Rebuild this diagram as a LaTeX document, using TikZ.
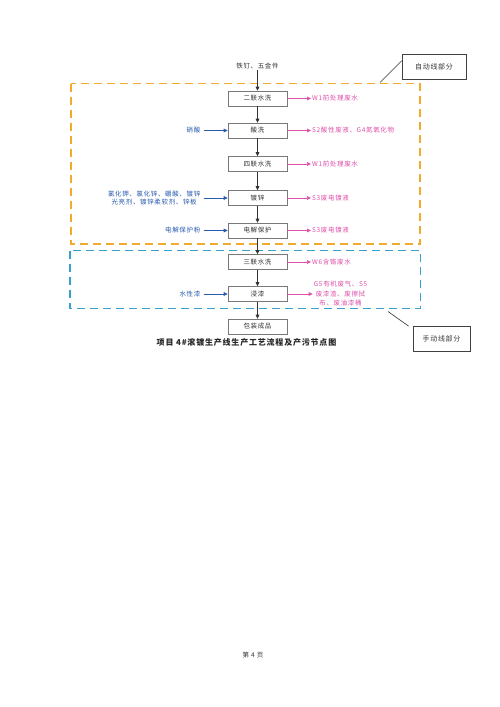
\documentclass[tikz,border=0pt]{standalone}
\usepackage{fontspec}
\setmainfont{Liberation Serif}
\newfontfamily\cjk[LetterSpace=10]{Noto Sans CJK SC}
\usetikzlibrary{arrows.meta}
\definecolor{pinkc}{RGB}{222,80,170}
\definecolor{bluec}{RGB}{40,90,175}
\definecolor{orangec}{RGB}{240,170,45}
\definecolor{cyanc}{RGB}{55,160,205}
\definecolor{boxline}{RGB}{120,120,120}
\tikzset{
  stepbox/.style={draw=boxline, line width=0.6pt, minimum width=59pt, minimum height=15pt, inner sep=0pt,
    font=\cjk\fontsize{6.5}{7.5}\selectfont, text=black!80},
  flow/.style={-{Triangle[length=4pt,width=3.6pt]}, line width=0.7pt, black!80},
  outarr/.style={-{Triangle[length=4pt,width=3.6pt]}, line width=0.7pt, pinkc},
  inarr/.style={-{Triangle[length=4pt,width=3.6pt]}, line width=0.7pt, bluec},
  outtxt/.style={anchor=west, inner sep=1pt, text=pinkc, font=\cjk\fontsize{6.5}{7.5}\selectfont},
  intxt/.style={anchor=east, inner sep=1pt, text=bluec, font=\cjk\fontsize{6.5}{8.5}\selectfont, align=center},
  region/.style={dashed, dash pattern=on 8pt off 5pt, line width=1.4pt},
  tagbox/.style={draw=black!75, line width=0.6pt, inner sep=0pt, font=\cjk\fontsize{7}{8}\selectfont, text=black!80},
}
\begin{document}
\begin{tikzpicture}[x=1pt,y=-1pt]
\useasboundingbox (0,0) rectangle (500,707);
\fill[white] (0,0) rectangle (500,707);

% regions
\draw[region, orangec] (71,83.5) rectangle (420,244);
\draw[region, cyanc] (70,250.5) rectangle (420.5,308.5);

% top input
\node[font=\cjk\fontsize{6.5}{7.5}\selectfont, text=black!80, inner sep=1pt] (src) at (257.5,65.5) {铁钉、五金件};

% process boxes
\node[stepbox] (b1) at (257.5,98.5) {二联水洗};
\node[stepbox] (b2) at (257.5,130.5) {酸洗};
\node[stepbox] (b3) at (257.5,164) {四联水洗};
\node[stepbox] (b4) at (257.5,198) {镀锌};
\node[stepbox] (b5) at (257.5,230.5) {电解保护};
\node[stepbox] (b6) at (257.5,262) {三联水洗};
\node[stepbox] (b7) at (257.5,294) {浸漆};
\node[stepbox] (b8) at (257.5,326.5) {包装成品};

\draw[flow] (src) -- (b1);
\draw[flow] (b1) -- (b2);
\draw[flow] (b2) -- (b3);
\draw[flow] (b3) -- (b4);
\draw[flow] (b4) -- (b5);
\draw[flow] (b5) -- (b6);
\draw[flow] (b6) -- (b7);
\draw[flow] (b7) -- (b8);

% outputs
\node[outtxt] (o1) at (311,98.5) {W1前处理废水};
\node[outtxt] (o2) at (311,130.5) {S2酸性废液、G4氮氧化物};
\node[outtxt] (o3) at (311,164) {W1前处理废水};
\node[outtxt] (o4) at (311,198) {S3废电镀液};
\node[outtxt] (o5) at (311,230.5) {S3废电镀液};
\node[outtxt] (o6) at (311,262) {W6含铬废水};
\node[outtxt, anchor=center, align=center, font=\cjk\fontsize{6.5}{9.5}\selectfont] (o7) at (340.5,294) {G5有机废气、S5\\废漆渣、废擦拭\\布、废油漆桶};
\foreach \b/\o in {b1/o1,b2/o2,b3/o3,b4/o4,b5/o5,b6/o6}
  \draw[outarr] (\b.east) -- (\o.west);
\draw[outarr] (b7.east) -- (o7.west |- b7.east);

% inputs
\node[intxt] (i2) at (201.5,130.5) {硝酸};
\node[intxt] (i4) at (201.5,198) {氯化钾、氯化锌、硼酸、镀锌\\光亮剂、镀锌柔软剂、锌板};
\node[intxt] (i5) at (201.5,230.5) {电解保护粉};
\node[intxt] (i7) at (201.5,294) {水性漆};
\foreach \i/\b in {i2/b2,i4/b4,i5/b5,i7/b7}
  \draw[inarr] ([xshift=2pt]\i.east) -- (\b.west);

% tags
\node[tagbox, minimum width=64pt, minimum height=25pt] (autol) at (434,66.5) {自动线部分};
\node[tagbox, minimum width=57pt, minimum height=25pt] (manl) at (441.5,339) {手动线部分};
\coordinate (ca) at (380,82.5);
\coordinate (cm) at (388,311.5);
\draw[line width=0.6pt, black!80] (ca) -- (autol.170);
\draw[line width=0.6pt, black!80] (cm) -- ([xshift=-4pt]manl.north west);

% caption
\node[font=\cjk\bfseries\fontsize{8}{9.5}\selectfont, text=black!85, inner sep=0pt] (cap) at (246.5,342.5) {项目 4\#滚镀生产线生产工艺流程及产污节点图};

% footer
\node[font=\cjk\fontsize{6.5}{7.5}\selectfont, text=black!80, inner sep=0pt] (foot) at (253,655.5) {第 4 页};
\end{tikzpicture}
\end{document}
